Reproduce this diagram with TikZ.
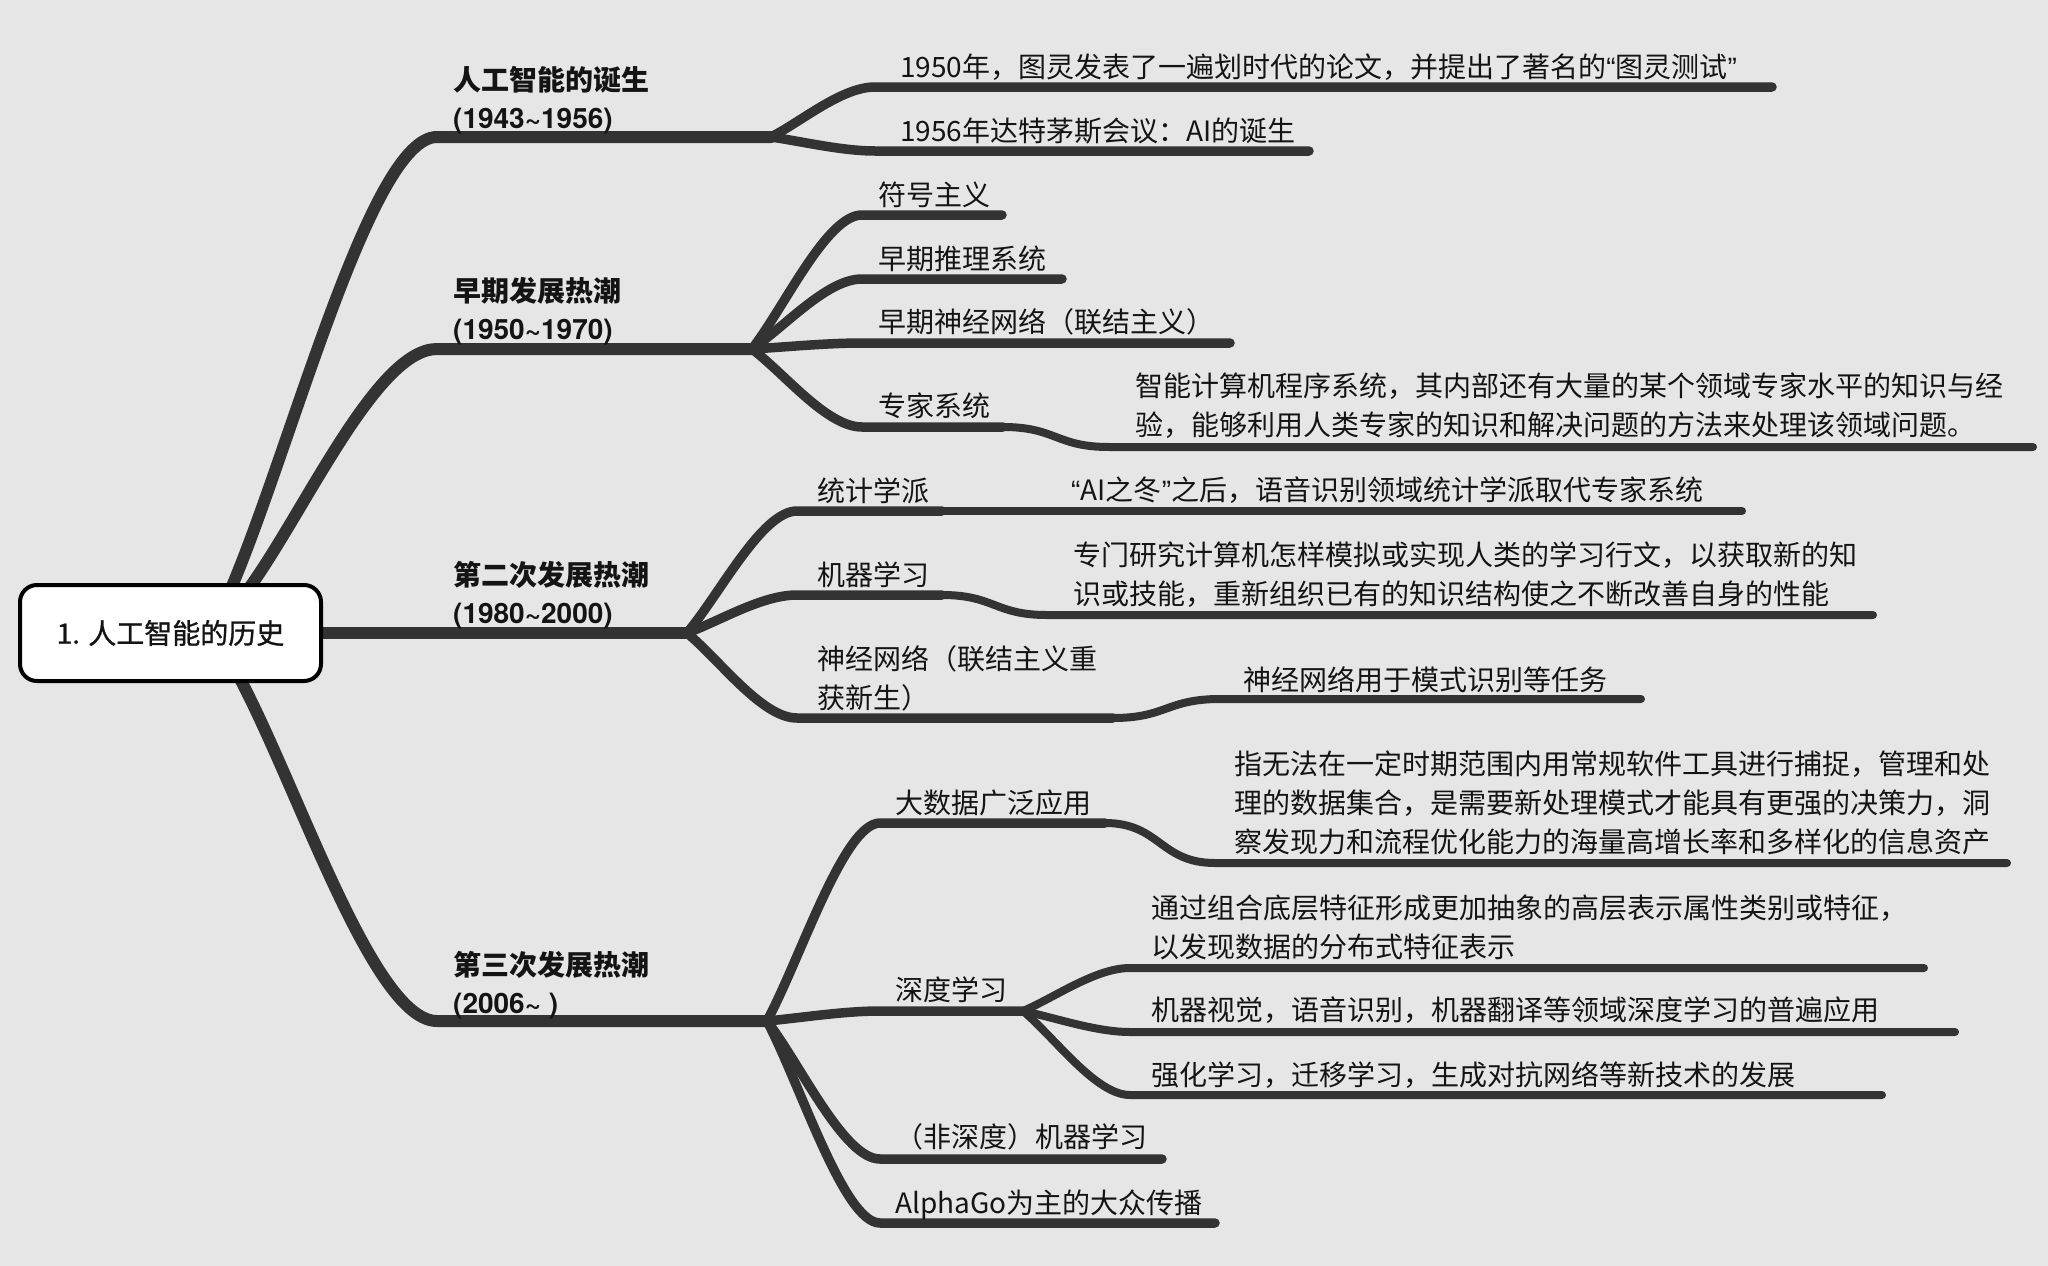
\documentclass[tikz,border=0pt]{standalone}
\usepackage{fontspec}
\setmainfont{Noto Sans CJK SC}
\newfontfamily\latinfont{Liberation Sans}
\newfontfamily\latinbold{texgyreheros-bold.otf}
\newfontfamily\centralfont{Noto Sans CJK SC}[FakeBold=1.0]
\newcommand\qopen{{\latinfont “}}
\newcommand\qclose{{\latinfont ”}}
\usetikzlibrary{calc}
\definecolor{paper}{HTML}{E6E6E6}
\definecolor{branch}{HTML}{333333}
\definecolor{ink}{HTML}{141414}
\pgfdeclarelayer{paperlayer}
\pgfdeclarelayer{wires}
\pgfsetlayers{paperlayer,wires,main}
\tikzset{
  % branch leaving its parent at an angle, ending horizontally
  fork/.style={to path={let \p1=(\tikztostart), \p2=(\tikztotarget) in
    .. controls ({\x1+0.3*(\x2-\x1)},{\y1+0.32*(\y2-\y1)}) and ({\x2-0.32*(\x2-\x1)},{\y2}) .. (\tikztotarget)}},
  % S-shaped step between two horizontal underlines
  flat/.style={to path={let \p1=(\tikztostart), \p2=(\tikztotarget) in
    .. controls ({0.5*\x1+0.5*\x2},{\y1}) and ({0.5*\x1+0.5*\x2},{\y2}) .. (\tikztotarget)}},
  wire/.style={draw=branch, line cap=round, line join=round},
  wireA/.style={wire, line width=12pt},
  wireB/.style={wire, line width=9.5pt},
  wireC/.style={wire, line width=8pt},
  % multi-line texts are placed by the baseline of their last line
  txt/.style={inner sep=0pt, anchor=base west, align=left, text=ink,
    font=\fontsize{28}{39}\selectfont},
  head/.style={txt, font=\fontsize{28}{38}\selectfont\bfseries},
  rootbox/.style={draw=black, line width=4pt, fill=white, rounded corners=17pt,
    minimum width=301pt, minimum height=96pt, inner sep=0pt,
    font=\centralfont\fontsize{28}{34}\selectfont, text=ink}
}
\begin{document}
\begin{tikzpicture}[x=1pt,y=-1pt]
\begin{pgfonlayer}{paperlayer}
  \fill[paper] (0,0) rectangle (2048,1266);
\end{pgfonlayer}
\useasboundingbox (0,0) rectangle (2048,1266);

% central topic
\node[rootbox] (root) at (170.5,633) {1. 人工智能的历史};
\coordinate (r1) at ([xshift=59.5pt,yshift=-8pt]root.north);
\coordinate (r2) at ([xshift=76.5pt,yshift=-8pt]root.north);
\coordinate (r4) at ([xshift=67.5pt,yshift=8pt]root.south);

% main branches
\node[head] (B1) at (453,128.6) {人工智能的诞生\\{\latinbold(1943\textasciitilde1956)}};
\coordinate (B1s) at (437,137); \coordinate (B1e) at (771,137);
\node[head] (B2) at (453,339.6) {早期发展热潮\\{\latinbold(1950\textasciitilde1970)}};
\coordinate (B2s) at (437,349); \coordinate (B2e) at (752,349);
\node[head] (B3) at (453,623.6) {第二次发展热潮\\{\latinbold(1980\textasciitilde2000)}};
\coordinate (B3e) at (687,633);
\node[head] (B4) at (453,1013.6) {第三次发展热潮\\{\latinbold(2006\textasciitilde\ )}};
\coordinate (B4s) at (437,1021); \coordinate (B4e) at (767,1021);

% 人工智能的诞生
\node[txt] (a1) at (900,77.6) {1950年，图灵发表了一遍划时代的论文，并提出了著名的\qopen 图灵测试\qclose};
\coordinate (a1s) at (875,87); \coordinate (a1e) at (1772,87);
\node[txt] (a2) at (900,141.6) {1956年达特茅斯会议：AI的诞生};
\coordinate (a2s) at (875,151); \coordinate (a2e) at (1309,151);

% 早期发展热潮
\node[txt] (b1) at (878,205.6) {符号主义};
\coordinate (b1s) at (862,215); \coordinate (b1e) at (1002,215);
\node[txt] (b2) at (878,269.6) {早期推理系统};
\coordinate (b2s) at (862,279); \coordinate (b2e) at (1062,279);
\node[txt] (b3) at (878,332.6) {早期神经网络（联结主义）};
\coordinate (b3s) at (862,343); \coordinate (b3e) at (1230,343);
\node[txt] (b4) at (878,416.6) {专家系统};
\coordinate (b4s) at (862,427); \coordinate (b4e) at (1003,427);
\node[txt] (b4x) at (1135,435.6) {智能计算机程序系统，其内部还有大量的某个领域专家水平的知识与经\\验，能够利用人类专家的知识和解决问题的方法来处理该领域问题。};
\coordinate (b4xs) at (1109,447); \coordinate (b4xe) at (2033,447);

% 第二次发展热潮
\node[txt] (c1) at (817,501.6) {统计学派};
\coordinate (c1s) at (797,511); \coordinate (c1e) at (942,511);
\node[txt] (c1x) at (1071,500.6) {\qopen AI之冬\qclose 之后，语音识别领域统计学派取代专家系统};
\coordinate (c1xe) at (1742,511);
\node[txt] (c2) at (817,585.6) {机器学习};
\coordinate (c2s) at (797,595); \coordinate (c2e) at (942,595);
\node[txt] (c2x) at (1073,604.6) {专门研究计算机怎样模拟或实现人类的学习行文，以获取新的知\\识或技能，重新组织已有的知识结构使之不断改善自身的性能};
\coordinate (c2xs) at (1047,615); \coordinate (c2xe) at (1873,615);
\node[txt] (c3) at (817,708.6) {神经网络（联结主义重\\获新生）};
\coordinate (c3s) at (797,718); \coordinate (c3e) at (1113,718);
\node[txt] (c3x) at (1243,690.6) {神经网络用于模式识别等任务};
\coordinate (c3xs) at (1220,699); \coordinate (c3xe) at (1641,699);

% 第三次发展热潮
\node[txt] (d1) at (895,813.6) {大数据广泛应用};
\coordinate (d1s) at (880,823); \coordinate (d1e) at (1105,823);
\node[txt] (d1x) at (1234,852.6) {指无法在一定时期范围内用常规软件工具进行捕捉，管理和处\\理的数据集合，是需要新处理模式才能具有更强的决策力，洞\\察发现力和流程优化能力的海量高增长率和多样化的信息资产};
\coordinate (d1xs) at (1215,863); \coordinate (d1xe) at (2007,863);
\node[txt] (d2) at (895,1000.6) {深度学习};
\coordinate (d2s) at (880,1011); \coordinate (d2e) at (1023,1011);
\node[txt] (d2a) at (1151,957.6) {通过组合底层特征形成更加抽象的高层表示属性类别或特征，\\以发现数据的分布式特征表示};
\coordinate (d2as) at (1130,968); \coordinate (d2ae) at (1924,968);
\node[txt] (d2b) at (1151,1020.6) {机器视觉，语音识别，机器翻译等领域深度学习的普遍应用};
\coordinate (d2bs) at (1130,1032); \coordinate (d2be) at (1955,1032);
\node[txt] (d2c) at (1151,1085.6) {强化学习，迁移学习，生成对抗网络等新技术的发展};
\coordinate (d2cs) at (1130,1095); \coordinate (d2ce) at (1882,1095);
\node[txt] (d3) at (895,1147.6) {（非深度）机器学习};
\coordinate (d3s) at (880,1159); \coordinate (d3e) at (1162,1159);
\node[txt] (d4) at (895,1213.6) {AlphaGo为主的大众传播};
\coordinate (d4s) at (880,1223); \coordinate (d4e) at (1215,1223);

\begin{pgfonlayer}{wires}
  % level 1
  \draw[wireA] (r1) to[fork] (B1s) -- (B1e);
  \draw[wireA] (r2) to[fork] (B2s) -- (B2e);
  \draw[wireA] (root.center) -- (B3e);
  \draw[wireA] (r4) to[fork] (B4s) -- (B4e);
  % level 2
  \draw[wireB] (B1e) to[fork] (a1s) -- (a1e);
  \draw[wireB] (B1e) to[fork] (a2s) -- (a2e);
  \draw[wireB] (B2e) to[fork] (b1s) -- (b1e);
  \draw[wireB] (B2e) to[fork] (b2s) -- (b2e);
  \draw[wireB] (B2e) to[fork] (b3s) -- (b3e);
  \draw[wireB] (B2e) to[fork] (b4s) -- (b4e);
  \draw[wireB] (B3e) to[fork] (c1s) -- (c1e);
  \draw[wireB] (B3e) to[fork] (c2s) -- (c2e);
  \draw[wireB] (B3e) to[fork] (c3s) -- (c3e);
  \draw[wireB] (B4e) to[fork] (d1s) -- (d1e);
  \draw[wireB] (B4e) to[fork] (d2s) -- (d2e);
  \draw[wireB] (B4e) to[fork] (d3s) -- (d3e);
  \draw[wireB] (B4e) to[fork] (d4s) -- (d4e);
  % level 3
  \draw[wireC] (b4e) to[flat] (b4xs) -- (b4xe);
  \draw[wireC] (c1e) -- (c1xe);
  \draw[wireC] (c2e) to[flat] (c2xs) -- (c2xe);
  \draw[wireC] (c3e) to[flat] (c3xs) -- (c3xe);
  \draw[wireC] (d1e) to[flat] (d1xs) -- (d1xe);
  \draw[wireC] (d2e) to[fork] (d2as) -- (d2ae);
  \draw[wireC] (d2e) to[fork] (d2bs) -- (d2be);
  \draw[wireC] (d2e) to[fork] (d2cs) -- (d2ce);
\end{pgfonlayer}
\end{tikzpicture}
\end{document}
